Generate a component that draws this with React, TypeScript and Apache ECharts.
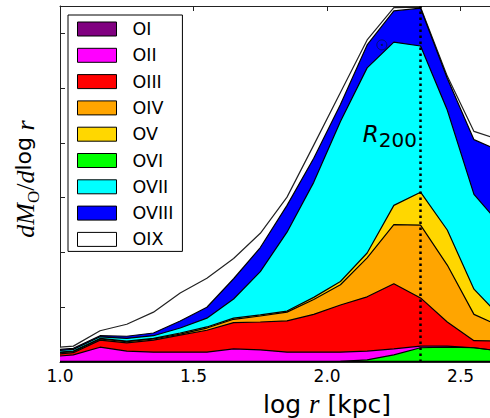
import React, { useEffect, useRef } from "react";
import * as echarts from "echarts";

// log r [kpc] sample points
const logR = [1.0, 1.05, 1.15, 1.25, 1.35, 1.45, 1.55, 1.65, 1.75, 1.85, 1.95, 2.05, 2.15, 2.25, 2.35, 2.45, 2.55, 2.65];

// dM_O / dlog r contribution of each ion (arbitrary units, one tick = 1)
const OI = [0.01, 0.01, 0.01, 0.01, 0.01, 0.01, 0.01, 0.01, 0.01, 0.01, 0.01, 0.01, 0.01, 0.01, 0.01, 0.01, 0.01, 0.01];
const OII = [0.10, 0.12, 0.26, 0.19, 0.17, 0.17, 0.17, 0.23, 0.21, 0.17, 0.17, 0.17, 0.19, 0.23, 0.28, 0.28, 0.25, 0.19];
const OIII = [0.04, 0.04, 0.13, 0.15, 0.22, 0.31, 0.40, 0.48, 0.51, 0.57, 0.69, 0.86, 0.99, 1.19, 0.88, 0.44, 0.13, 0.18];
const OIV = [0.02, 0.02, 0.02, 0.02, 0.02, 0.02, 0.04, 0.06, 0.11, 0.16, 0.27, 0.37, 0.71, 1.08, 1.33, 1.04, 0.48, 0.27];
const OV = [0.01, 0.01, 0.01, 0.01, 0.01, 0.02, 0.02, 0.02, 0.02, 0.02, 0.04, 0.06, 0.09, 0.35, 0.60, 0.64, 0.46, 0.17];
const OVI = [0, 0, 0, 0, 0, 0, 0, 0, 0, 0, 0, 0.01, 0.04, 0.13, 0.26, 0.27, 0.26, 0.20];
const OVII = [0.03, 0.03, 0.03, 0.05, 0.05, 0.09, 0.16, 0.35, 0.79, 1.44, 2.10, 2.92, 3.38, 2.98, 2.67, 2.19, 1.73, 1.68];
const OVIII = [0.02, 0.02, 0.02, 0.04, 0.05, 0.13, 0.20, 0.37, 0.44, 0.49, 0.44, 0.31, 0.42, 0.57, 0.69, 0.58, 1.00, 1.35];
const OIX = [0.04, 0.04, 0.09, 0.22, 0.38, 0.51, 0.53, 0.37, 0.26, 0.15, 0.24, 0.22, 0.09, 0.06, 0.02, 0.04, 0.15, 0.20];

const ionNames = ["OI", "OII", "OIII", "OIV", "OV", "OVI", "OVII", "OVIII", "OIX"];
const ionColors = ["#800080", "#ff00ff", "#ff0000", "#ffa500", "#ffd700", "#00ff00", "#00ffff", "#0000ff", "#ffffff"];

const xTicks = [1.0, 1.5, 2.0, 2.5];
const R200 = 2.35;

export default function App() {
  const ref = useRef<HTMLDivElement>(null);

  useEffect(() => {
    if (!ref.current) return;
    const chart = echarts.init(ref.current, null, { renderer: "svg" });

    // stacked (cumulative) layers; OVI is drawn on its own from zero, on top
    const stackOrder = [
      { name: "OI", vals: OI },
      { name: "OII", vals: OII },
      { name: "OIII", vals: OIII },
      { name: "OIV", vals: OIV },
      { name: "OV", vals: OV },
      { name: "OVII", vals: OVII },
      { name: "OVIII", vals: OVIII },
      { name: "OIX", vals: OIX },
    ];
    const running = logR.map(() => 0);
    const cumLayers = stackOrder.map((l) => {
      const cum = l.vals.map((v, i) => {
        running[i] += v;
        return running[i];
      });
      return { name: l.name, cum };
    });

    const colorOf = (n: string) => ionColors[ionNames.indexOf(n)];

    const series: any[] = cumLayers
      .slice()
      .reverse()
      .map((l) => ({
        type: "line",
        name: l.name,
        data: logR.map((x, i) => [x, l.cum[i]]),
        symbol: "none",
        showSymbol: false,
        clip: true,
        lineStyle: { color: l.name === "OIX" ? "#222" : "#000", width: 1.2 },
        itemStyle: { color: colorOf(l.name) },
        areaStyle: { color: colorOf(l.name), opacity: 1 },
      }));

    series.push({
      type: "line",
      name: "OVI",
      data: logR.map((x, i) => [x, OVI[i]]),
      symbol: "none",
      showSymbol: false,
      clip: true,
      lineStyle: { color: "#000", width: 1.2 },
      itemStyle: { color: colorOf("OVI") },
      areaStyle: { color: colorOf("OVI"), opacity: 1 },
      markLine: {
        silent: true,
        symbol: ["none", "none"],
        label: { show: false },
        lineStyle: { color: "#000", type: [2.5, 3.5], width: 2.5 },
        data: [{ xAxis: R200 }],
      },
      markPoint: {
        silent: true,
        label: { show: false },
        data: [
          { coord: [2.205, 5.79], symbol: "circle", symbolSize: 10, itemStyle: { color: "rgba(0,0,0,0)", borderColor: "#001050", borderWidth: 0.8 } },
          { coord: [2.205, 5.79], symbol: "circle", symbolSize: 2, itemStyle: { color: "#001050" } },
        ],
      },
    });

    const axisCommon = {
      type: "value",
      min: 1.0,
      max: 2.61,
      interval: 0.5,
      splitLine: { show: false },
      axisLine: { show: true, onZero: false, lineStyle: { color: "#222", width: 1 } },
      axisTick: { show: true, inside: true, length: 5, lineStyle: { color: "#222", width: 1 } },
    };

    chart.setOption({
      animation: false,
      backgroundColor: "#fff",
      grid: { left: 60, right: 0, top: 6, bottom: 56, containLabel: false },
      xAxis: [
        {
          ...axisCommon,
          position: "bottom",
          axisLabel: {
            show: true,
            margin: 5,
            color: "#000",
            fontFamily: "DejaVu Sans",
            fontSize: 17,
            showMaxLabel: false,
            formatter: (v: number) => (xTicks.some((t) => Math.abs(t - v) < 1e-6) ? v.toFixed(1) : ""),
          },
        },
        {
          ...axisCommon,
          position: "top",
          axisLabel: { show: false },
        },
      ],
      yAxis: [
        {
          type: "value",
          min: 0,
          max: 6.5,
          interval: 1,
          splitLine: { show: false },
          axisLabel: { show: false },
          axisLine: { show: true, onZero: false, lineStyle: { color: "#222", width: 1 } },
          axisTick: { show: true, inside: true, length: 5, lineStyle: { color: "#222", width: 1 } },
        },
      ],
      legend: {
        orient: "vertical",
        left: 68,
        top: 15,
        padding: [5, 9, 3, 9],
        itemWidth: 39,
        itemHeight: 14,
        itemGap: 8.3,
        icon: "rect",
        selectedMode: false,
        backgroundColor: "#fff",
        borderColor: "#000",
        borderWidth: 1,
        borderRadius: 0,
        itemStyle: { borderColor: "#000", borderWidth: 1 },
        textStyle: { fontFamily: "DejaVu Sans", fontSize: 17.5, color: "#000", padding: [0, 0, 0, 11] },
        data: ionNames,
      },
      graphic: [
        {
          type: "text",
          x: 327,
          y: 404,
          style: {
            text: "{s|log }{i|r}{s| [kpc]}",
            align: "center",
            verticalAlign: "middle",
            fill: "#000",
            rich: {
              s: { fontFamily: "DejaVu Sans", fontSize: 25, fill: "#000" },
              i: { fontFamily: "Liberation Serif", fontStyle: "italic", fontSize: 27, fill: "#000" },
            },
          },
        },
        {
          type: "text",
          x: 27,
          y: 179,
          rotation: Math.PI / 2,
          style: {
            text: "{i|dM}{o|O}{n|/}{i|d}{s|log}{i| r}",
            align: "center",
            verticalAlign: "middle",
            fill: "#000",
            rich: {
              i: { fontFamily: "Liberation Serif", fontStyle: "italic", fontSize: 26, lineHeight: 30, verticalAlign: "top", fill: "#000" },
              o: { fontFamily: "Liberation Serif", fontSize: 17, lineHeight: 18, verticalAlign: "bottom", fill: "#000" },
              n: { fontFamily: "Liberation Serif", fontSize: 26, lineHeight: 30, verticalAlign: "top", fill: "#000" },
              s: { fontFamily: "DejaVu Sans", fontSize: 22, lineHeight: 30, verticalAlign: "top", fill: "#000" },
            },
          },
        },
        {
          type: "text",
          x: 417,
          y: 136,
          z: 100,
          style: {
            text: "{r|R}{n|200}",
            align: "right",
            verticalAlign: "middle",
            fill: "#000",
            rich: {
              r: { fontFamily: "DejaVu Sans", fontStyle: "italic", fontSize: 23, lineHeight: 28, verticalAlign: "top", fill: "#000" },
              n: { fontFamily: "DejaVu Sans", fontSize: 20, lineHeight: 20, verticalAlign: "bottom", fill: "#000" },
            },
          },
        },
      ],
      series,
    });

    return () => chart.dispose();
  }, []);

  return (
    <div
      ref={ref}
      style={{ position: "absolute", left: 0, top: 0, width: 490, height: 418 }}
    />
  );
}
